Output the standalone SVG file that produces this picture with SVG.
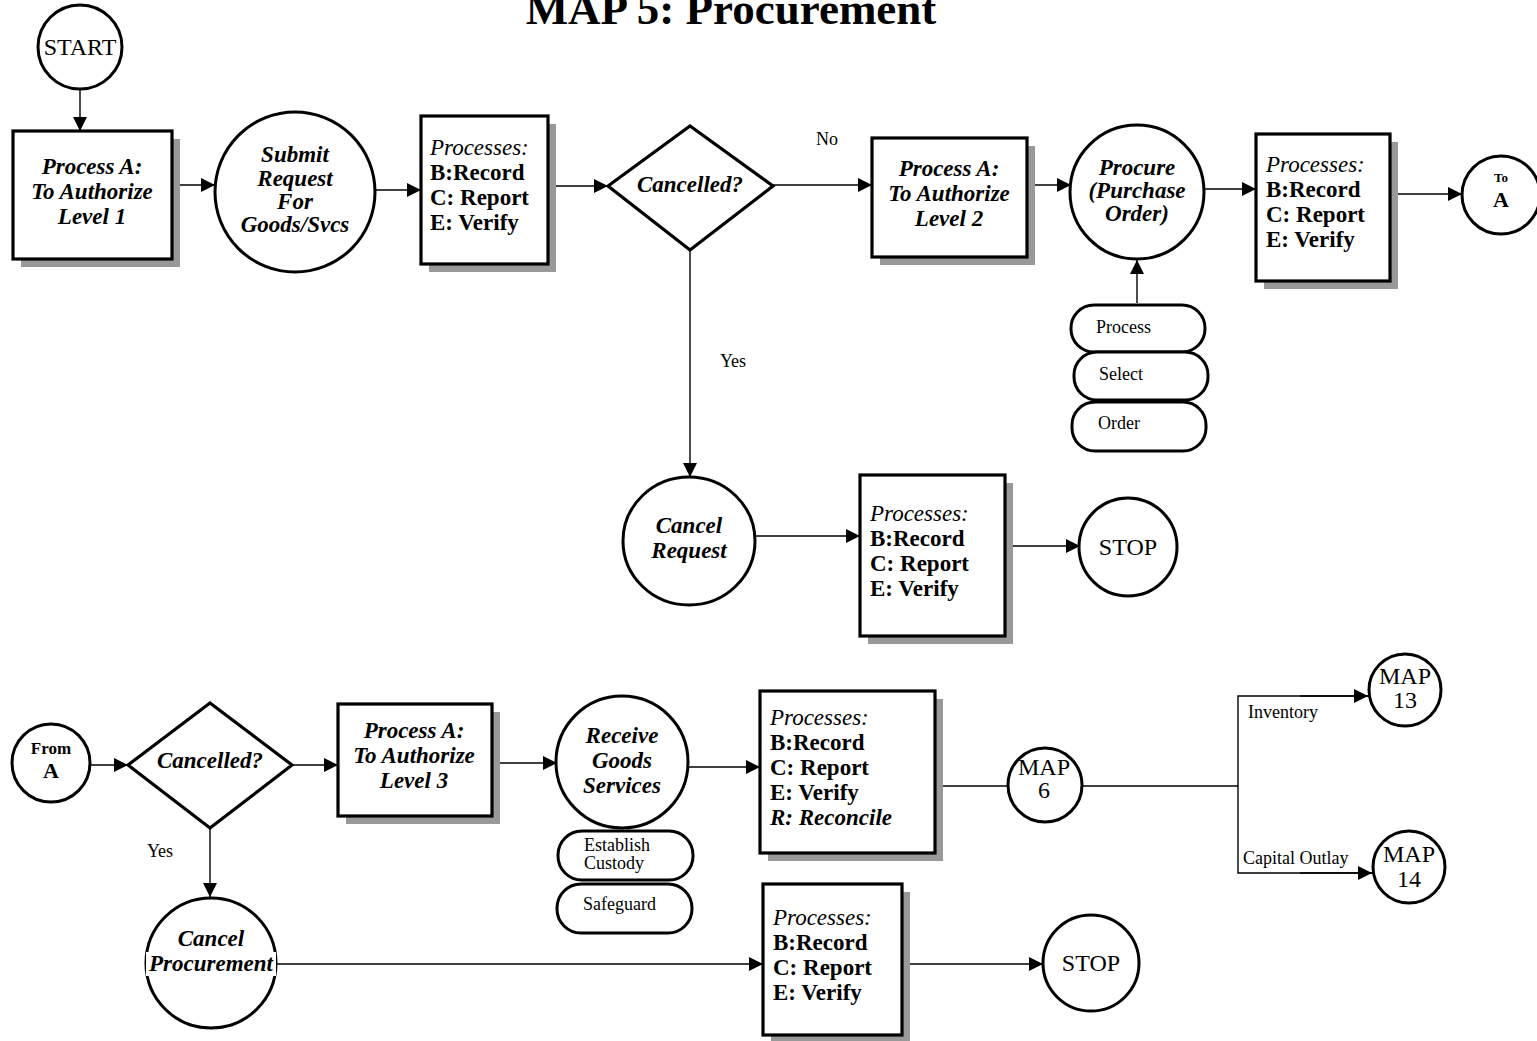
<svg xmlns="http://www.w3.org/2000/svg" width="1537" height="1041" viewBox="0 0 1537 1041">
<style>
text{font-family:"Liberation Serif","Times New Roman",serif;fill:#000}
.sh{fill:#999;stroke:none}
.bx{fill:#fff;stroke:#000;stroke-width:3.2}
.ci{fill:#fff;stroke:#000;stroke-width:3}
.pl{fill:#fff;stroke:#000;stroke-width:3}
.c{fill:none;stroke:#000;stroke-width:1.4}
.bi{font-weight:bold;font-style:italic;font-size:23px;text-anchor:middle}
.pt{font-size:23px}
.pi{font-style:italic;font-weight:normal}
.pb{font-weight:bold}
.sm{font-size:18px}
.nm{font-size:24px;text-anchor:middle}
</style>
<defs>
<marker id="ar" viewBox="0 0 10 10" refX="10" refY="5" markerWidth="18" markerHeight="14" markerUnits="userSpaceOnUse" orient="auto"><path d="M0,0 L10,5 L0,10 z" fill="#000"/></marker>
</defs>
<text x="731" y="24" font-size="45" font-weight="bold" text-anchor="middle">MAP 5: Procurement</text>

<g id="connectors">
<line class="c" x1="80" y1="90" x2="80" y2="131" marker-end="url(#ar)"/>
<line class="c" x1="172" y1="185" x2="215" y2="185" marker-end="url(#ar)"/>
<line class="c" x1="376" y1="190" x2="421" y2="190" marker-end="url(#ar)"/>
<line class="c" x1="548" y1="186" x2="608" y2="186" marker-end="url(#ar)"/>
<line class="c" x1="773" y1="185" x2="872" y2="185" marker-end="url(#ar)"/>
<line class="c" x1="1027" y1="185" x2="1071" y2="185" marker-end="url(#ar)"/>
<line class="c" x1="1137" y1="303" x2="1137" y2="260" marker-end="url(#ar)"/>
<line class="c" x1="1204" y1="189" x2="1256" y2="189" marker-end="url(#ar)"/>
<line class="c" x1="1390" y1="194" x2="1462" y2="194" marker-end="url(#ar)"/>
<line class="c" x1="690" y1="250" x2="690" y2="477" marker-end="url(#ar)"/>
<line class="c" x1="756" y1="536" x2="860" y2="536" marker-end="url(#ar)"/>
<line class="c" x1="1005" y1="546" x2="1080" y2="546" marker-end="url(#ar)"/>
<line class="c" x1="90" y1="765" x2="128" y2="765" marker-end="url(#ar)"/>
<line class="c" x1="292" y1="765" x2="338" y2="765" marker-end="url(#ar)"/>
<line class="c" x1="492" y1="763" x2="557" y2="763" marker-end="url(#ar)"/>
<line class="c" x1="688" y1="767" x2="760" y2="767" marker-end="url(#ar)"/>
<line class="c" x1="935" y1="786" x2="1007" y2="786"/>
<line class="c" x1="1083" y1="786" x2="1238" y2="786"/>
<polyline class="c" points="1368,696 1238,696 1238,873 1372,873"/>
<line class="c" x1="1300" y1="696" x2="1368" y2="696" marker-end="url(#ar)"/>
<line class="c" x1="1300" y1="873" x2="1372" y2="873" marker-end="url(#ar)"/>
<line class="c" x1="210" y1="828" x2="210" y2="897" marker-end="url(#ar)"/>
<line class="c" x1="276" y1="964" x2="763" y2="964" marker-end="url(#ar)"/>
<line class="c" x1="902" y1="964" x2="1043" y2="964" marker-end="url(#ar)"/>
<text x="827" y="145" class="sm" text-anchor="middle">No</text>
<text x="733" y="367" class="sm" text-anchor="middle">Yes</text>
<text x="160" y="857" class="sm" text-anchor="middle">Yes</text>
<text x="1248" y="718" class="sm">Inventory</text>
<text x="1243" y="864" class="sm">Capital Outlay</text>
</g>

<g id="start">
<circle class="ci" cx="80" cy="47" r="42"/>
<text x="80" y="55" class="nm">START</text>
</g>

<g id="auth1">
<rect class="sh" x="21" y="139" width="159" height="128"/>
<rect class="bx" x="13" y="131" width="159" height="128"/>
<text class="bi"><tspan x="92" y="174">Process A:</tspan><tspan x="92" y="199">To Authorize</tspan><tspan x="92" y="224">Level  1</tspan></text>
</g>

<g id="submit">
<circle class="ci" cx="295" cy="192" r="80"/>
<text class="bi"><tspan x="295" y="162">Submit</tspan><tspan x="295" y="186">Request</tspan><tspan x="295" y="209">For</tspan><tspan x="295" y="232">Goods/Svcs</tspan></text>
</g>

<g id="proc1">
<rect class="sh" x="429" y="124" width="127" height="148"/>
<rect class="bx" x="421" y="116" width="127" height="148"/>
<text class="pt"><tspan x="430" y="155" class="pi">Processes:</tspan><tspan x="430" y="180" class="pb">B:Record</tspan><tspan x="430" y="205" class="pb">C: Report</tspan><tspan x="430" y="230" class="pb">E: Verify</tspan></text>
</g>

<g id="dec1">
<polygon class="bx" points="608,186 690,126 773,186 690,250"/>
<text x="690" y="192" class="bi">Cancelled?</text>
</g>

<g id="auth2">
<rect class="sh" x="880" y="146" width="155" height="119"/>
<rect class="bx" x="872" y="138" width="155" height="119"/>
<text class="bi"><tspan x="949" y="176">Process A:</tspan><tspan x="949" y="201">To Authorize</tspan><tspan x="949" y="226">Level  2</tspan></text>
</g>

<g id="procure">
<circle class="ci" cx="1137" cy="192" r="67"/>
<text class="bi"><tspan x="1137" y="175">Procure</tspan><tspan x="1137" y="198">(Purchase</tspan><tspan x="1137" y="221">Order)</tspan></text>
</g>

<g id="pill-process">
<rect class="pl" x="1071" y="305" width="134" height="47" rx="23"/>
<text x="1096" y="333" class="sm">Process</text>
</g>
<g id="pill-select">
<rect class="pl" x="1074" y="352" width="134" height="48" rx="23"/>
<text x="1099" y="380" class="sm">Select</text>
</g>
<g id="pill-order">
<rect class="pl" x="1072" y="402" width="134" height="49" rx="23"/>
<text x="1098" y="429" class="sm">Order</text>
</g>

<g id="proc2">
<rect class="sh" x="1264" y="142" width="134" height="147"/>
<rect class="bx" x="1256" y="134" width="134" height="147"/>
<text class="pt"><tspan x="1266" y="172" class="pi">Processes:</tspan><tspan x="1266" y="197" class="pb">B:Record</tspan><tspan x="1266" y="222" class="pb">C: Report</tspan><tspan x="1266" y="247" class="pb">E: Verify</tspan></text>
</g>

<g id="toA">
<circle class="ci" cx="1501" cy="195" r="39"/>
<text x="1501" y="182" font-size="13" font-weight="bold" text-anchor="middle">To</text>
<text x="1501" y="207" font-size="22" font-weight="bold" text-anchor="middle">A</text>
</g>

<g id="cancelreq">
<ellipse class="ci" cx="689" cy="541" rx="66" ry="64"/>
<text class="bi"><tspan x="689" y="533">Cancel</tspan><tspan x="689" y="558">Request</tspan></text>
</g>

<g id="proc3">
<rect class="sh" x="868" y="483" width="145" height="161"/>
<rect class="bx" x="860" y="475" width="145" height="161"/>
<text class="pt"><tspan x="870" y="521" class="pi">Processes:</tspan><tspan x="870" y="546" class="pb">B:Record</tspan><tspan x="870" y="571" class="pb">C: Report</tspan><tspan x="870" y="596" class="pb">E: Verify</tspan></text>
</g>

<g id="stop1">
<circle class="ci" cx="1128" cy="547" r="49"/>
<text x="1128" y="555" class="nm">STOP</text>
</g>

<g id="fromA">
<circle class="ci" cx="51" cy="763" r="39"/>
<text x="51" y="754" font-size="17" font-weight="bold" text-anchor="middle">From</text>
<text x="51" y="778" font-size="22" font-weight="bold" text-anchor="middle">A</text>
</g>

<g id="dec2">
<polygon class="bx" points="128,765 210,703 292,765 210,828"/>
<text x="210" y="768" class="bi">Cancelled?</text>
</g>

<g id="auth3">
<rect class="sh" x="346" y="712" width="154" height="112"/>
<rect class="bx" x="338" y="704" width="154" height="112"/>
<text class="bi"><tspan x="414" y="738">Process A:</tspan><tspan x="414" y="763">To Authorize</tspan><tspan x="414" y="788">Level  3</tspan></text>
</g>

<g id="receive">
<circle class="ci" cx="622" cy="762" r="66"/>
<text class="bi"><tspan x="622" y="743">Receive</tspan><tspan x="622" y="768">Goods</tspan><tspan x="622" y="793">Services</tspan></text>
</g>

<g id="pill-custody">
<rect class="pl" x="558" y="831" width="135" height="49" rx="24"/>
<text class="sm"><tspan x="584" y="851">Establish</tspan><tspan x="584" y="869">Custody</tspan></text>
</g>
<g id="pill-safeguard">
<rect class="pl" x="557" y="884" width="135" height="49" rx="24"/>
<text x="583" y="910" class="sm">Safeguard</text>
</g>

<g id="proc4">
<rect class="sh" x="768" y="699" width="175" height="162"/>
<rect class="bx" x="760" y="691" width="175" height="162"/>
<text class="pt"><tspan x="770" y="725" class="pi">Processes:</tspan><tspan x="770" y="750" class="pb">B:Record</tspan><tspan x="770" y="775" class="pb">C: Report</tspan><tspan x="770" y="800" class="pb">E: Verify</tspan><tspan x="770" y="825" font-weight="bold" font-style="italic">R: Reconcile</tspan></text>
</g>

<g id="map6">
<circle class="ci" cx="1045" cy="785" r="37"/>
<text class="nm"><tspan x="1044" y="775">MAP</tspan><tspan x="1044" y="798">6</tspan></text>
</g>

<g id="map13">
<circle class="ci" cx="1405" cy="690" r="36"/>
<text class="nm"><tspan x="1405" y="684">MAP</tspan><tspan x="1405" y="708">13</tspan></text>
</g>

<g id="map14">
<circle class="ci" cx="1409" cy="867" r="36"/>
<text class="nm"><tspan x="1409" y="862">MAP</tspan><tspan x="1409" y="887">14</tspan></text>
</g>

<g id="cancelproc">
<circle class="ci" cx="211" cy="963" r="65"/>
<rect x="146" y="952" width="130" height="24" fill="#fff"/>
<text class="bi"><tspan x="211" y="946">Cancel</tspan><tspan x="211" y="971">Procurement</tspan></text>
</g>

<g id="proc5">
<rect class="sh" x="771" y="892" width="139" height="151"/>
<rect class="bx" x="763" y="884" width="139" height="151"/>
<text class="pt"><tspan x="773" y="925" class="pi">Processes:</tspan><tspan x="773" y="950" class="pb">B:Record</tspan><tspan x="773" y="975" class="pb">C: Report</tspan><tspan x="773" y="1000" class="pb">E: Verify</tspan></text>
</g>

<g id="stop2">
<circle class="ci" cx="1091" cy="963" r="48"/>
<text x="1091" y="971" class="nm">STOP</text>
</g>
</svg>
